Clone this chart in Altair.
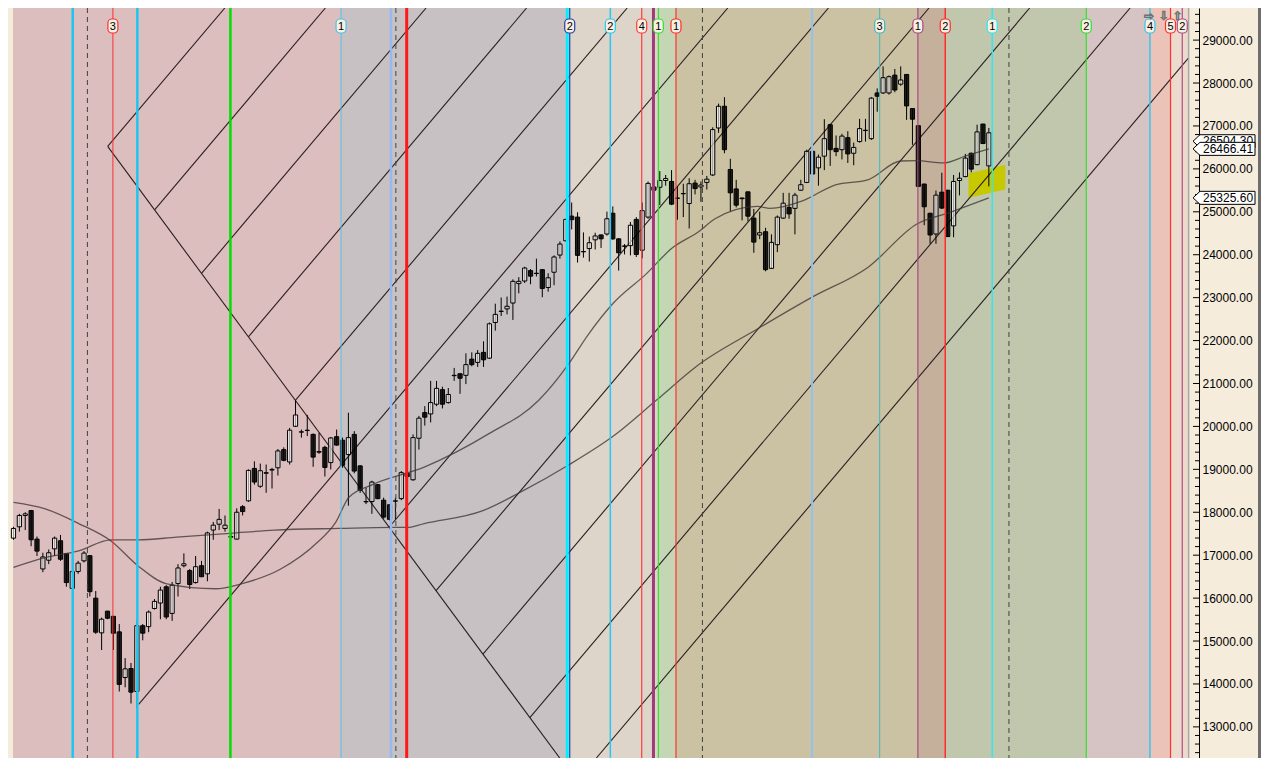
import altair as alt
import pandas as pd

# ---------------- weekly candles (index, open, high, low, close) ----------------
O = [17397, 17661, 17925, 18039, 17374, 16679, 16883, 17148, 17336, 17034,
     16226, 16619, 16868, 16989, 15999, 15191, 15697, 15576, 15214, 14149,
     14360, 13824, 15357, 15335, 15758, 15886, 16264, 15644, 16339, 16755,
     16641, 16362, 16755, 16566, 17586, 17722, 17623, 17420, 17374, 18129,
     18266, 19021, 18605, 18908, 18983, 19036, 19459, 19172, 20003, 19867,
     19904, 19814, 19399, 19512, 19157, 19761, 19678, 19346, 19814, 19081,
     18250, 18250, 18643, 18281, 18175, 18258, 18318, 18908, 18757, 19724,
     20321, 20291, 20517, 20857, 20555, 21182, 21227, 21190, 21567, 21492,
     21726, 21590, 22421, 22678, 22738, 22874, 23327, 23388, 23630, 23569,
     23652, 23237, 23592, 23992, 24325, 24899, 24876, 24075, 24143, 24347,
     24461, 24483, 24967, 24370, 24204, 24211, 24823, 24105, 24876, 25578,
     25571, 25729, 25707, 25321, 25420, 25193, 25669, 25578, 25684, 25858,
     26953, 27459, 25986, 25533, 25321, 25465, 24853, 24460, 24536, 23682,
     24234, 24853, 25102, 25080, 25503, 25684, 26409, 26024, 26296, 27029,
     26477, 26447, 26727, 26364, 26636, 26893, 26704, 27769, 27769, 27769,
     28184, 27973, 28200, 27406, 27006, 25646, 24966, 24483, 25457, 25503,
     24672, 25729, 25820, 26364, 26099, 27044, 26069]
H = [17661, 17963, 18001, 18054, 17435, 17057, 17133, 17435, 17472, 17034,
     16641, 16868, 17095, 16989, 16165, 15546, 15697, 15576, 15395, 14602,
     14489, 15471, 15395, 15712, 15977, 16264, 16301, 16377, 16792, 17042,
     16679, 16981, 16868, 17548, 17775, 18077, 17925, 17533, 18092, 18167,
     18998, 19187, 19134, 19112, 19036, 19474, 19512, 19965, 20607, 19927,
     20267, 19837, 19852, 19550, 19754, 19927, 19739, 20320, 19890, 19097,
     18568, 18734, 18658, 18341, 18190, 18341, 18960, 18930, 19814, 20245,
     20472, 21061, 21061, 20925, 20895, 21363, 21235, 21703, 21726, 21779,
     21983, 22421, 22859, 23003, 23025, 23426, 23478, 23720, 23667, 23909,
     23667, 23569, 23985, 24309, 24838, 25216, 24989, 24521, 24423, 24513,
     24470, 25004, 25125, 24380, 24249, 24763, 24876, 25216, 25707, 25600,
     25948, 25858, 25971, 25593, 25654, 25782, 25745, 25707, 25835, 26968,
     27520, 27671, 26235, 25745, 25329, 25470, 25065, 25004, 24627, 24475,
     24914, 25442, 25442, 25442, 25745, 26447, 26430, 26334, 27157, 27051,
     26779, 26817, 26878, 26613, 27165, 27165, 27671, 27875, 28388, 28177,
     28328, 28388, 28210, 27415, 27015, 25655, 24975, 25495, 25911, 25510,
     25858, 25918, 26349, 26379, 27029, 27050, 26953]
L = [17359, 17548, 17586, 17208, 16981, 16604, 16792, 16981, 16868, 16264,
     16211, 16566, 16830, 16037, 15168, 14791, 15508, 14791, 13824, 13922,
     13544, 13431, 15017, 15206, 15735, 15508, 15508, 15471, 16037, 16717,
     16211, 16339, 16490, 16392, 17359, 17586, 17548, 17397, 17374, 17925,
     18243, 18643, 18568, 18454, 18553, 18855, 19187, 19112, 19988, 19739,
     19776, 19059, 19361, 18832, 18998, 19550, 19036, 18152, 18908, 18454,
     18190, 17963, 18303, 17850, 17812, 17835, 18281, 18820, 18734, 19460,
     20019, 20094, 20472, 20419, 20532, 21061, 20759, 20986, 21401, 21386,
     21386, 21575, 22232, 22572, 22610, 22481, 23101, 23342, 23312, 23494,
     23010, 23139, 23290, 23909, 24309, 24589, 23818, 23932, 23841, 24121,
     24158, 24445, 24347, 23630, 24007, 23985, 23947, 23917, 24838, 25490,
     25155, 25608, 25155, 24815, 24876, 24611, 25405, 25231, 25518, 25835,
     26840, 26364, 25012, 25102, 24800, 24778, 24045, 24362, 23614, 23667,
     24060, 24838, 24838, 24475, 25495, 25669, 25858, 25608, 25971, 26069,
     26296, 26220, 26137, 26084, 26613, 26636, 26674, 27331, 27746, 27731,
     27784, 27935, 27142, 26560, 25578, 24687, 24256, 24256, 25065, 24415,
     24407, 25382, 25805, 25918, 26084, 26576, 25593]
C = [17623, 17925, 17963, 17359, 17095, 16959, 17057, 17397, 16906, 16362,
     16619, 16815, 17049, 16150, 15206, 15508, 15531, 15183, 13990, 14352,
     13809, 15357, 15183, 15675, 15924, 16188, 15561, 16301, 16702, 16800,
     16317, 16732, 16498, 17518, 17699, 17835, 17699, 17435, 18001, 18016,
     18976, 18704, 18968, 18923, 18998, 19429, 19210, 19912, 20267, 19875,
     19912, 19285, 19414, 19044, 19731, 19565, 19097, 19739, 18960, 18515,
     18243, 18704, 18318, 17888, 17835, 18266, 18923, 18832, 19739, 20192,
     20215, 20555, 20887, 20517, 20744, 21190, 21122, 21439, 21439, 21703,
     21552, 22391, 22610, 22685, 22799, 23380, 23380, 23690, 23501, 23562,
     23214, 23463, 23947, 24249, 24823, 24816, 23985, 24068, 24279, 24438,
     24370, 24838, 24370, 24045, 24196, 24687, 24007, 25027, 25662, 25503,
     25729, 25775, 25178, 25314, 25427, 25654, 25541, 25624, 25760, 26915,
     27459, 26447, 25442, 25155, 25306, 24898, 24294, 24513, 23652, 24287,
     24876, 25201, 24951, 25389, 25631, 26409, 25880, 26273, 26704, 26447,
     26402, 26764, 26349, 26500, 26938, 26900, 27648, 27693, 28124, 28147,
     27837, 28071, 27467, 27157, 25593, 25117, 24460, 25389, 25087, 24423,
     25707, 25782, 26251, 25994, 26862, 26591, 26840]
IDX = list(range(len(O)))

# ---------------- moving averages ----------------
MA_FAST_I = [0, 5.4, 11.1, 16.6, 21.1, 26.1, 34.4, 38.75, 45.4, 51.6, 54.8, 57.1,
             61.1, 69.9, 81.0, 89.4, 94.4, 97.7, 102.1, 107.7, 112.1, 116.6,
             119.4, 126.6, 128.75, 134.4, 139.9, 145.4, 151.0, 153.75, 158.25,
             162.1, 166.0]
MA_FAST_P = [18228, 18077, 17737, 17329, 16762, 16332, 16218, 16332, 16672, 17283,
             17760, 18349, 18643, 19051, 19837, 20608, 21437, 22117, 22874, 23554,
             24157, 24536, 24837, 25125, 25079, 25261, 25630, 25744, 26183, 26190,
             26138, 26303, 26466.41]
MA_SLOW_I = [0, 5.4, 11.1, 16.6, 21.1, 27.75, 36.9, 44.4, 55.4, 64.4, 67.1, 69.9,
             79.9, 86.6, 94.4, 102.1, 109.4, 116.6, 126.6, 136.0, 145.4, 153.75,
             159.4, 166.0]
MA_SLOW_P = [16717, 16943, 17102, 17358, 17358, 17419, 17510, 17585, 17623, 17646,
             17646, 17737, 18038, 18491, 19096, 19776, 20608, 21437, 22269, 23017,
             23704, 24717, 24989, 25325.60]

# ---------------- Gann-style line drawings (bar index, price) ----------------
FAN_X0 = [16.03, 16.03, 24.02, 32.0, 39.98, 47.97, 21.3, 63.93, 71.92, 79.9, 87.88, 99.2]
FAN_P0 = [26523, 26523, 25044, 23566, 22087, 20608, 13524, 17651, 16172, 14693, 13214, 12275]
FAN_X1 = [92.97, 35.97, 53.08, 70.22, 87.33, 104.45, 121.57, 138.70, 155.82, 172.95, 190.05, 199.92]
FAN_P1 = [12275, 29748, 29748, 29748, 29748, 29748, 29748, 29748, 29748, 29748, 29748, 28572]

# ---------------- time-cycle verticals ----------------
VL_X = [10.08, 16.92, 21.08, 36.92, 55.75, 64.25, 66.92, 94.25, 94.67, 101.58,
        106.92, 108.92, 109.75, 112.75, 135.92, 147.42, 153.92, 158.58, 166.58,
        182.58, 193.42, 196.92, 198.92]
VL_COL = ["#1cc6f0", "#ff3030", "#1cc6f0", "#00e000", "#4cc4e8", "#94b8f0", "#ff1818",
          "#00f0ff", "#2c3ca8", "#28c8f0", "#ff3c3c", "#a03a78", "#30e030", "#ff3030",
          "#94c0f0", "#40b8c4", "#a84a84", "#ff2c2c", "#30e8f0", "#30e030", "#38c4ee",
          "#ff3030", "#b05080"]
VL_W = [2.5, 1, 2.5, 2.5, 1, 2.5, 3, 3, 1.2, 1.5, 1.2, 3, 1.2, 1.2, 2, 1, 1.2, 1.5,
        1.5, 1.2, 1.5, 1.2, 1.2]
DASH_X = [12.58, 65.08, 117.25, 169.42]

PILL_X = [16.92, 55.75, 94.67, 101.58, 106.92, 109.75, 112.75, 147.42, 153.92,
          158.58, 166.58, 182.58, 193.42, 196.92, 198.92]
PILL_T = ["3", "1", "2", "2", "4", "1", "1", "3", "1", "2", "1", "2", "4", "5", "2"]
PILL_C = ["#ff3030", "#4cc4e8", "#2c3ca8", "#28c8f0", "#ff3c3c", "#30e030", "#ff3030",
          "#40b8c4", "#a84a84", "#ff2c2c", "#30e8f0", "#30e030", "#38c4ee", "#ff3030",
          "#b05080"]

ARROW_X = [193.25, 195.83, 198.17]
ARROW_T = ["⇨", "⇩", "⇧"]

# ---------------- background zones ----------------
BAND_X0 = [-1/12, 55.75, 94.42, 109.58, 112.75, 153.92, 158.58, 182.58, 193.42, 196.92]
BAND_X1 = [55.75, 94.42, 109.58, 112.75, 153.92, 158.58, 182.58, 193.42, 196.92, 199.92]
BAND_C = ["#dcbebe", "#c8c1c4", "#ded5ca", "#c5d6b4", "#cbc2a3", "#c5b19b",
          "#c1c7ad", "#d6c3c3", "#ecc3b9", "#ecdbcd"]

BOX_I = [162.53, 168.8]
BOX_TOP = [25895, 26099]
BOX_BOT = [25329, 25517]

FLAG_V = [26504.30, 26466.41, 25325.60]
FLAG_T = ["26504.30", "26466.41", "25325.60"]

MAJOR = list(range(13000, 29001, 1000))
MINOR = [v for v in range(12400, 29801, 200) if v % 1000 != 0]

# ---------------- chart ----------------
W, HG = 1191, 750
xs = alt.Scale(domain=[-1/12, 200 + 11/12], nice=False, zero=False)
ys = alt.Scale(domain=[12275, 29748], nice=False, zero=False)
YAXIS = alt.Axis(orient="right", values=MAJOR, format=".2f", ticks=False, domain=True,
                 domainColor="#000000", domainWidth=1, labelPadding=3, grid=False,
                 title=None, labelFont="Liberation Sans", labelFontSize=12,
                 labelColor="#000000")


def X(f):
    return alt.X(f, type="quantitative", scale=xs, axis=None)


def Y(f):
    return alt.Y(f, type="quantitative", scale=ys, axis=YAXIS)


bands = alt.Chart(pd.DataFrame({"a": BAND_X0, "b": BAND_X1, "c": BAND_C})).mark_rect().encode(
    x=X("a"), x2="b", y=alt.value(0), y2=alt.value(HG), fill=alt.Fill("c:N", scale=None))

box = alt.Chart(pd.DataFrame({"i": BOX_I, "t": BOX_TOP, "b": BOX_BOT})).mark_area(
    color="#c8c800", opacity=1).encode(x=X("i"), y=Y("t"), y2="b")

fan = alt.Chart(pd.DataFrame({"a": FAN_X0, "p": FAN_P0, "b": FAN_X1, "q": FAN_P1})).mark_rule(
    color="#2a1e22", strokeWidth=1.1).encode(x=X("a"), y=Y("p"), x2="b", y2="q")

cd = pd.DataFrame({"i": IDX, "o": O, "h": H, "l": L, "c": C})
cd["f"] = ["#ffffff" if c >= o else "#000000" for o, c in zip(O, C)]
cd["fo"] = [0.6 if c >= o else 0.84 for o, c in zip(O, C)]

wicks = alt.Chart(cd).mark_rule(color="#000000", strokeWidth=1).encode(
    x=X("i"), y=Y("l"), y2="h")

bodies = alt.Chart(cd).mark_bar(size=4.2, stroke="#000000", strokeWidth=1).encode(
    x=X("i"), y=Y("o"), y2="c",
    fill=alt.Fill("f:N", scale=None), fillOpacity=alt.FillOpacity("fo:Q", scale=None))

ma = pd.concat([
    pd.DataFrame({"s": "fast", "i": MA_FAST_I, "p": MA_FAST_P}),
    pd.DataFrame({"s": "slow", "i": MA_SLOW_I, "p": MA_SLOW_P}),
])
mas = alt.Chart(ma).mark_line(interpolate="monotone", color="#3a3030", strokeWidth=1.3,
                              opacity=0.75).encode(x=X("i"), y=Y("p"), detail="s:N")

vd = pd.DataFrame({"x": VL_X, "c": VL_COL, "w": VL_W})
vlines = alt.Chart(vd).mark_rule().encode(
    x=X("x"), y=alt.value(0), y2=alt.value(HG),
    color=alt.Color("c:N", scale=None), strokeWidth=alt.StrokeWidth("w:Q", scale=None))

dashes = alt.Chart(pd.DataFrame({"x": DASH_X})).mark_rule(
    color="#404040", strokeWidth=1, strokeDash=[5, 4]).encode(
    x=X("x"), y=alt.value(0), y2=alt.value(HG))

edge = alt.Chart(pd.DataFrame({"x": [200.0]})).mark_rule(color="#a8a8a8", strokeWidth=1.5).encode(
    x=X("x"), y=alt.value(0), y2=alt.value(HG))

pd_p = pd.DataFrame({"x": PILL_X, "t": PILL_T, "c": PILL_C})
pills = alt.Chart(pd_p).transform_calculate(a="datum.x - 0.85", b="datum.x + 0.85").mark_rect(
    cornerRadius=4, fill="#f6efe2", strokeWidth=1.2).encode(
    x=X("a:Q"), x2="b:Q", y=alt.value(11), y2=alt.value(25),
    stroke=alt.Stroke("c:N", scale=None))
pill_txt = alt.Chart(pd_p).mark_text(font="Liberation Sans", fontSize=11, color="#000000",
                                     baseline="middle", align="center").encode(
    x=X("x"), y=alt.value(18.5), text="t:N")

arrows = alt.Chart(pd.DataFrame({"x": ARROW_X, "t": ARROW_T})).mark_text(
    font="DejaVu Sans", fontSize=12, color="#ffffff", stroke="#707070", strokeWidth=0.8,
    baseline="middle", align="center").encode(x=X("x"), y=alt.value(8), text="t:N")

tmaj = alt.Chart(pd.DataFrame({"v": MAJOR})).mark_rule(color="#000000", strokeWidth=1).encode(
    y=Y("v"), x=alt.value(W - 6), x2=alt.value(W + 1))
tmin = alt.Chart(pd.DataFrame({"v": MINOR})).mark_rule(color="#000000", strokeWidth=1).encode(
    y=Y("v"), x=alt.value(W - 4), x2=alt.value(W))

FLAG_SHAPE = "M-1,0 L-0.774,-0.21 L1,-0.21 L1,0.21 L-0.774,0.21 Z"
fd = pd.DataFrame({"v": FLAG_V, "t": FLAG_T})
flag_back = alt.Chart(fd.iloc[[0]]).mark_point(
    shape=FLAG_SHAPE, size=3844, filled=True, fill="#ffffff", stroke="#000000",
    strokeWidth=1, opacity=1, yOffset=-6).encode(y=Y("v"), x=alt.value(W + 25))
flag_back_t = alt.Chart(fd.iloc[[0]]).mark_text(
    font="Liberation Sans", fontSize=12, color="#000000", align="left", baseline="middle",
    dy=-6).encode(y=Y("v"), x=alt.value(W + 4), text="t:N")
flag_front = alt.Chart(fd.iloc[1:]).mark_point(
    shape=FLAG_SHAPE, size=3844, filled=True, fill="#ffffff", stroke="#000000",
    strokeWidth=1, opacity=1).encode(y=Y("v"), x=alt.value(W + 25))
flag_front_t = alt.Chart(fd.iloc[1:]).mark_text(
    font="Liberation Sans", fontSize=12, color="#000000", align="left",
    baseline="middle").encode(y=Y("v"), x=alt.value(W + 4), text="t:N")

border = alt.Chart(pd.DataFrame({"k": [0]})).mark_rect(color="#6e6e6e").encode(
    x=alt.value(W + 59), x2=alt.value(W + 62), y=alt.value(0), y2=alt.value(HG))

chart = alt.layer(
    bands, box, fan, wicks, bodies, mas, vlines, dashes, edge, pills, pill_txt, arrows,
    tmaj, tmin, flag_back, flag_back_t, flag_front, flag_front_t, border
).properties(
    width=W, height=HG,
    autosize=alt.AutoSizeParams(type="none"),
    padding={"left": 0, "top": 0, "right": 62, "bottom": 0},
    background="#f5ecdc",
).configure_view(stroke=None)

chart.save("out.html", embed_options={"renderer": "svg", "actions": False})
